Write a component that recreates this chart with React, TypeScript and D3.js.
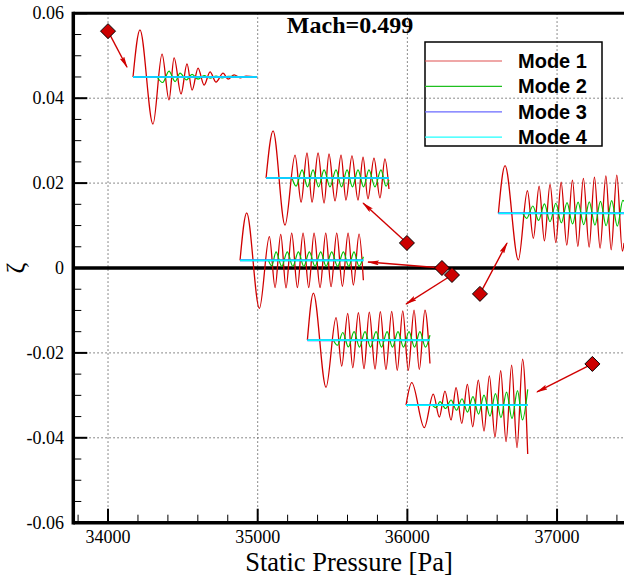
import React from "react";
import * as d3 from "d3";

const W = 624;
const H = 578;

// axis ticks
const xTicks = [34000, 35000, 36000, 37000];
const xTickLabels = ["34000", "35000", "36000", "37000"];
const yTicks = [-0.06, -0.04, -0.02, 0, 0.02, 0.04, 0.06];
const yTickLabels = ["-0.06", "-0.04", "-0.02", "0", "0.02", "0.04", "0.06"];

// legend
const modeNames = ["Mode 1", "Mode 2", "Mode 3", "Mode 4"];
const modeColors = ["#d00000", "#00c000", "#3c3cff", "#00ffff"];
const legendLineColors = ["#e05050", "#20c020", "#6a6aff", "#20ffff"];

// operating points (static pressure, zeta)
const pointP = [34000, 35997, 36231, 36298, 36485, 37236];
const pointZ = [0.0558, 0.0059, 0.0, -0.00165, -0.0061, -0.0226];
// arrow tips pointing at the mode-shape insets
const arrowP = [34127, 35704, 35737, 35991, 36666, 36866];
const arrowZ = [0.0473, 0.0153, 0.0014, -0.0085, 0.0059, -0.0292];

// inset placement (pressure span and zeta baseline)
const insetStart = [34167, 35056, 34882, 35332, 36608, 35991];
const insetEnd = [34996, 35877, 35706, 36151, 37448, 36804];
const insetBase = [0.045, 0.0212, 0.0018, -0.017, 0.0129, -0.0323];

// extrema of mode signals: [normalized time, zeta offset x1e-3]
const mode1Inset1: [number, number][] = [[0,0],[0.056,11.1],[0.161,-11.1],[0.234,5.4],[0.29,-5.4],[0.331,4.5],[0.387,-4.0],[0.435,3.1],[0.476,-3.1],[0.524,2.1],[0.573,-1.9],[0.621,1.2],[0.669,-1.2],[0.726,0.9],[0.766,-0.5],[0.815,0.5],[0.863,-0.2],[0.911,0.2],[1,0]];
const mode2Inset1: [number, number][] = [[0.194,0],[0.239,-1.3],[0.29,1.4],[0.339,-1.1],[0.379,0.9],[0.431,-0.7],[0.476,0.6],[0.524,-0.5],[0.573,0.35],[0.621,-0.3],[0.669,0.2],[0.718,-0.2],[0.766,0.15],[1,0]];

const mode1Inset2: [number, number][] = [[0,0],[0.057,11.1],[0.154,-11.1],[0.236,5.4],[0.285,-5.7],[0.333,5.9],[0.374,-5.7],[0.423,5.9],[0.472,-5.9],[0.512,5.7],[0.561,-5.4],[0.61,5.4],[0.65,-5.2],[0.699,5.2],[0.748,-5.2],[0.789,4.9],[0.829,-4.9],[0.878,4.7],[0.927,-4.7],[0.967,4.5],[1,-2.6]];
const mode2Inset2: [number, number][] = [[0.211,0],[0.244,-1.9],[0.293,1.9],[0.337,-2.1],[0.382,1.9],[0.427,-2.1],[0.472,1.9],[0.52,-2.1],[0.569,1.9],[0.614,-2.1],[0.659,1.9],[0.703,-2.1],[0.748,1.9],[0.793,-2.1],[0.837,1.9],[0.886,-2.1],[0.935,1.9],[0.976,-1.9],[1,-0.5]];

const mode1Inset3: [number, number][] = [[0,0],[0.054,11.2],[0.157,-11.3],[0.238,5.6],[0.284,-6.4],[0.33,6.1],[0.373,-6.5],[0.419,6.4],[0.465,-6.4],[0.511,6.4],[0.557,-6.4],[0.6,6.4],[0.649,-6.4],[0.695,6.4],[0.738,-6.2],[0.784,6.4],[0.83,-6.1],[0.876,6.4],[0.919,-5.8],[0.965,6.2],[1,-4.7]];
const mode2Inset3: [number, number][] = [[0.23,0],[0.257,-1.3],[0.292,2.0],[0.338,-1.4],[0.383,2.0],[0.428,-1.4],[0.473,2.0],[0.517,-1.4],[0.562,2.0],[0.608,-1.4],[0.654,2.0],[0.698,-1.4],[0.743,2.0],[0.791,-1.4],[0.838,2.0],[0.881,-1.4],[0.924,2.0],[0.965,-1.4],[1,0.85]];

const mode1Inset4: [number, number][] = [[0,0],[0.049,11.1],[0.152,-11.1],[0.234,5.3],[0.28,-6.1],[0.329,6.3],[0.37,-6.5],[0.416,6.5],[0.462,-6.7],[0.505,6.6],[0.552,-6.8],[0.595,6.7],[0.641,-6.9],[0.688,6.8],[0.733,-7.1],[0.778,6.9],[0.823,-7.1],[0.87,7.1],[0.913,-6.9],[0.959,7.1],[1,-5.5]];
const mode2Inset4: [number, number][] = [[0.212,0],[0.245,-1.2],[0.289,1.8],[0.334,-1.6],[0.381,2.0],[0.425,-1.65],[0.47,2.0],[0.515,-1.65],[0.56,2.0],[0.605,-1.65],[0.65,2.0],[0.694,-1.65],[0.739,2.0],[0.784,-1.65],[0.829,2.0],[0.874,-1.65],[0.918,2.0],[0.963,-1.65],[1,1.2]];

const mode1Inset5: [number, number][] = [[0,0],[0.053,11.2],[0.159,-11.0],[0.231,5.3],[0.278,-5.9],[0.324,6.4],[0.366,-6.5],[0.411,6.8],[0.457,-6.9],[0.499,7.3],[0.544,-7.5],[0.589,7.8],[0.632,-7.8],[0.676,8.2],[0.722,-8.0],[0.764,8.5],[0.809,-8.2],[0.855,8.8],[0.897,-8.6],[0.942,9.0],[0.986,-8.9],[1,-7.0]];
const mode2Inset5: [number, number][] = [[0.194,0],[0.226,-1.2],[0.274,1.7],[0.32,-1.7],[0.366,2.2],[0.411,-2.0],[0.457,2.35],[0.501,-2.25],[0.546,2.5],[0.59,-2.5],[0.634,2.6],[0.679,-2.7],[0.723,2.7],[0.768,-2.8],[0.812,2.8],[0.857,-2.95],[0.901,2.95],[0.946,-3.05],[0.99,3.05],[1,2.8]];

const mode1Inset6: [number, number][] = [[0,0],[0.047,5.3],[0.15,-5.3],[0.224,2.6],[0.274,-2.8],[0.32,3.3],[0.37,-3.5],[0.411,4.1],[0.458,-4.3],[0.504,4.9],[0.548,-5.1],[0.594,5.9],[0.641,-6.1],[0.685,6.9],[0.731,-7.5],[0.778,8.1],[0.822,-8.6],[0.868,9.4],[0.912,-10.0],[0.958,10.8],[1,-11.5]];
const mode2Inset6: [number, number][] = [[0.214,0],[0.247,-0.6],[0.279,0.8],[0.325,-0.8],[0.37,1.2],[0.415,-1.2],[0.46,1.5],[0.505,-1.65],[0.55,2.0],[0.596,-2.1],[0.641,2.35],[0.69,-2.6],[0.735,2.7],[0.78,-2.95],[0.826,3.05],[0.871,-3.2],[0.916,3.4],[0.957,-3.5],[1,3.7]];

const mode3Flat: [number, number][] = [[0,0],[1,0]];
const mode4Flat: [number, number][] = [[0,0],[1,0]];

const mode1Sets = [mode1Inset1, mode1Inset2, mode1Inset3, mode1Inset4, mode1Inset5, mode1Inset6];
const mode2Sets = [mode2Inset1, mode2Inset2, mode2Inset3, mode2Inset4, mode2Inset5, mode2Inset6];

const SERIF = "'Liberation Serif', 'Times New Roman', Times, serif";
const SANS = "'Liberation Sans', Arial, Helvetica, sans-serif";

export default function App() {
  const x = d3.scaleLinear().domain([33768, 37460]).range([73.3, 625.9]);
  const y = d3.scaleLinear().domain([-0.06, 0.06]).range([522.7, 13.3]);
  const left = x(33768);
  const right = W + 2;
  const top = y(0.06);
  const bottom = y(-0.06);

  const line = d3
    .line<[number, number]>()
    .x((d) => d[0])
    .y((d) => d[1])
    .curve(d3.curveMonotoneX);

  const insetPath = (i: number, pts: [number, number][]) => {
    const p0 = insetStart[i];
    const p1 = insetEnd[i];
    const b = insetBase[i];
    return line(
      pts.map(([t, v]) => [x(p0 + t * (p1 - p0)), y(b + v / 1000)] as [number, number])
    ) as string;
  };

  const xMinor = d3.range(33800, 37460, 200).filter((v) => v % 1000 !== 0);
  const yMinor = d3.range(-0.055, 0.06, 0.005).filter((v) => Math.abs(Math.round(v * 1000) % 20) !== 0);

  const gridColor = "#666";

  return (
    <svg width={W} height={H} style={{ display: "block", position: "absolute", left: 0, top: 0 }}>
      <defs>
        <marker id="ah" viewBox="0 0 12 5" refX="11" refY="2.5" markerWidth="12" markerHeight="5" markerUnits="userSpaceOnUse" orient="auto">
          <path d="M0,0 L12,2.5 L0,5 L2,2.5 z" fill="#d00000" />
        </marker>
      </defs>
      <rect x={0} y={0} width={W} height={H} fill="#fff" />

      {/* grid */}
      {xTicks.map((v) => (
        <line key={"gx" + v} x1={x(v)} x2={x(v)} y1={top} y2={bottom} stroke={gridColor} strokeWidth={1} strokeDasharray="1.5,2.5" />
      ))}
      {yTicks.filter((v) => v !== 0 && Math.abs(v) < 0.06).map((v) => (
        <line key={"gy" + v} x1={left} x2={right} y1={y(v)} y2={y(v)} stroke={gridColor} strokeWidth={1} strokeDasharray="1.5,2.5" />
      ))}

      {/* zero line */}
      <line x1={left} x2={right} y1={y(0)} y2={y(0)} stroke="#000" strokeWidth={3.5} />

      {/* insets */}
      {mode1Sets.map((pts, i) => (
        <g key={"ins" + i}>
          <path d={insetPath(i, pts)} fill="none" stroke={modeColors[0]} strokeWidth={1.3} />
          <path d={insetPath(i, mode2Sets[i])} fill="none" stroke={modeColors[1]} strokeWidth={1.2} />
          <path d={insetPath(i, mode3Flat)} fill="none" stroke={modeColors[2]} strokeWidth={2} />
          <path d={insetPath(i, mode4Flat)} fill="none" stroke={modeColors[3]} strokeWidth={1.6} />
        </g>
      ))}

      {/* arrows */}
      {pointP.map((p, i) => (
        <line key={"ar" + i} x1={x(p)} y1={y(pointZ[i])} x2={x(arrowP[i])} y2={y(arrowZ[i])} stroke="#d00000" strokeWidth={1.4} markerEnd="url(#ah)" />
      ))}
      {/* diamonds */}
      {pointP.map((p, i) => {
        const cx = x(p);
        const cy = y(pointZ[i]);
        const r = 7.5;
        return (
          <path key={"dm" + i} d={`M${cx},${cy - r}L${cx + r},${cy}L${cx},${cy + r}L${cx - r},${cy}Z`} fill="#cc0000" stroke="#000" strokeWidth={1} />
        );
      })}

      {/* axes */}
      <line x1={left} x2={right} y1={top} y2={top} stroke="#000" strokeWidth={3} />
      <line x1={left} x2={right} y1={bottom} y2={bottom} stroke="#000" strokeWidth={3.5} />
      <line x1={left} x2={left} y1={top - 1.5} y2={bottom + 1.75} stroke="#000" strokeWidth={3.5} />

      {xTicks.map((v) => (
        <line key={"xt" + v} x1={x(v)} x2={x(v)} y1={bottom} y2={bottom - 14} stroke="#000" strokeWidth={2} />
      ))}
      {xMinor.map((v) => (
        <line key={"xm" + v} x1={x(v)} x2={x(v)} y1={bottom} y2={bottom - 8} stroke="#000" strokeWidth={1} />
      ))}
      {yTicks.map((v) => (
        <line key={"yt" + v} x1={left} x2={left + 14} y1={y(v)} y2={y(v)} stroke="#000" strokeWidth={2} />
      ))}
      {yMinor.map((v) => (
        <line key={"ym" + v.toFixed(3)} x1={left} x2={left + 8} y1={y(v)} y2={y(v)} stroke="#000" strokeWidth={1} />
      ))}

      {xTicks.map((v, i) => (
        <text key={"xl" + v} x={x(v)} y={542.5} textAnchor="middle" fontFamily={SERIF} fontSize={18} fill="#000">
          {xTickLabels[i]}
        </text>
      ))}
      {yTicks.map((v, i) => (
        <text key={"yl" + v} x={64} y={y(v) + 6} textAnchor="end" fontFamily={SERIF} fontSize={18} fill="#000">
          {yTickLabels[i]}
        </text>
      ))}

      {/* axis titles */}
      <text x={349} y={571} textAnchor="middle" fontFamily={SERIF} fontSize={26.5} fill="#000">
        Static Pressure [Pa]
      </text>
      <text transform={`translate(24,${y(0)}) rotate(-90)`} textAnchor="middle" fontFamily={SERIF} fontSize={26} fill="#000">
        ζ
      </text>

      {/* title */}
      <text x={350} y={33} textAnchor="middle" fontFamily={SERIF} fontWeight="bold" fontSize={24} fill="#000">
        Mach=0.499
      </text>

      {/* legend */}
      <rect x={425} y={42} width={177} height={104} fill="none" stroke="#000" strokeWidth={1.5} />
      {modeNames.map((m, i) => (
        <g key={"lg" + i}>
          <line x1={425} x2={502} y1={61 + i * 25.4} y2={61 + i * 25.4} stroke={legendLineColors[i]} strokeWidth={1.2} />
          <text x={518} y={67.7 + i * 25.4} fontFamily={SANS} fontWeight="bold" fontSize={20} fill="#000">
            {m}
          </text>
        </g>
      ))}
    </svg>
  );
}
